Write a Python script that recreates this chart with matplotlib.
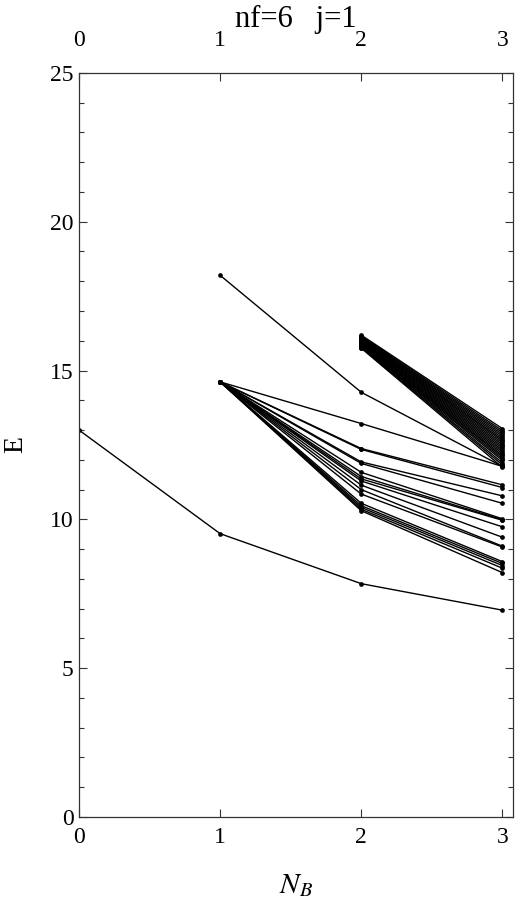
import matplotlib
matplotlib.use("Agg")
import matplotlib.pyplot as plt
import matplotlib.transforms as mtransforms
from matplotlib.ticker import MultipleLocator

plt.rcParams['font.family'] = ['Liberation Serif', 'DejaVu Serif']
plt.rcParams['mathtext.fontset'] = 'stix'

nb = [0, 1, 2, 3]

# lowest level, starts at N_B = 0
lowest = [13.0, 9.52, 7.84, 6.95]

# single level starting at N_B = 1
upper_branch = [18.2, 14.27, 11.78]

# fan of levels leaving the common point at N_B = 1
fan_n1 = 14.62
fan_n2 = [13.22, 12.38, 12.35, 11.93, 11.88, 11.58, 11.44, 11.36, 11.29,
          11.15, 11.00, 10.85, 10.54, 10.46, 10.40, 10.34, 10.29]
fan_n3 = [11.78, 11.16, 11.07, 10.79, 10.54, 10.02, 9.99, 9.97, 9.75,
          9.40, 9.10, 9.07, 8.58, 8.52, 8.45, 8.36, 8.21]

# dense bundle starting at N_B = 2
bundle_n2 = [16.19, 16.16, 16.13, 16.11, 16.09, 16.07, 16.05, 16.03, 16.01,
             15.99, 15.97, 15.95, 15.93, 15.91, 15.89, 15.87, 15.85, 15.83,
             15.81, 15.79, 15.77, 15.75]
bundle_n3 = [13.05, 12.98, 12.92, 12.86, 12.80, 12.74, 12.68, 12.63, 12.57,
             12.51, 12.45, 12.39, 12.33, 12.27, 12.21, 12.15, 12.10, 12.04,
             11.98, 11.90, 11.83, 11.75]

fig = plt.figure(figsize=(5.17, 9.0), dpi=100)
ax = fig.add_axes([0.1528, 0.0922, 0.993 - 0.1528, 0.919 - 0.0922])

style = dict(color='black', lw=1.0, marker='o', ms=3.4, mew=0)

ax.plot(nb, lowest, **style)
ax.plot(nb[1:], upper_branch, **style)
for e2, e3 in zip(fan_n2, fan_n3):
    ax.plot(nb[1:], [fan_n1, e2, e3], **style)
for e2, e3 in zip(bundle_n2, bundle_n3):
    ax.plot(nb[2:], [e2, e3], **style)

ax.set_xlim(0, 3.078)
ax.set_ylim(0, 25)
ax.set_xticks([0, 1, 2, 3])
ax.set_yticks([0, 5, 10, 15, 20, 25])
ax.yaxis.set_minor_locator(MultipleLocator(1))

ax.tick_params(axis='both', which='both', direction='in', top=True, right=True,
               labelsize=17, width=0.8, color='#333333')
ax.tick_params(axis='both', which='major', length=6)
ax.tick_params(axis='both', which='minor', length=3.5)
ax.tick_params(axis='x', labeltop=True, pad=7)
ax.tick_params(axis='y', pad=4)

for sp in ax.spines.values():
    sp.set_linewidth(0.9)
    sp.set_color('#333333')

fig.text(0.5727, 1 - 27 / 900, 'nf=6   j=1', fontsize=22, ha='center', va='baseline')

ax.set_xlabel('$N_B$', fontsize=21)
ax.xaxis.set_label_coords(0.5, -0.074)
ax.set_ylabel('E', fontsize=20, rotation=90)
ax.yaxis.set_label_coords(-0.118, 0.5)

# top tick labels sit further from the frame than the bottom ones
offset = mtransforms.ScaledTranslation(0, 9 / 72, fig.dpi_scale_trans)
for t in ax.xaxis.get_major_ticks():
    t.label2.set_transform(t.label2.get_transform() + offset)

fig.savefig('out.png', dpi=100)
